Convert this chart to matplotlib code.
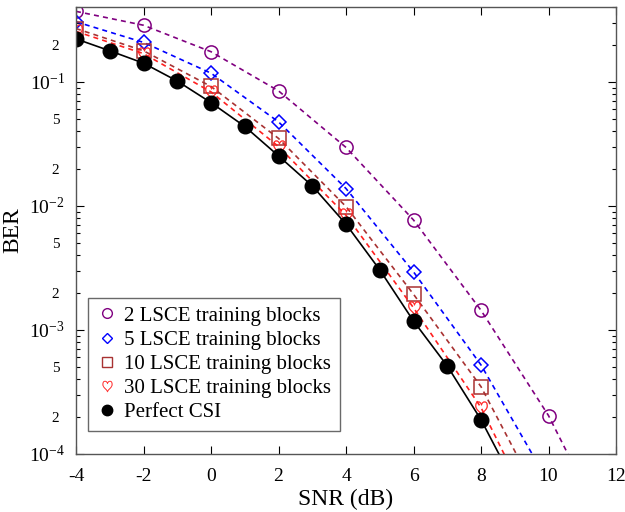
import numpy as np
import matplotlib
matplotlib.use("Agg")
import matplotlib.pyplot as plt
from matplotlib.lines import Line2D
from matplotlib.ticker import LogLocator, FuncFormatter

plt.rcParams['font.family'] = ['Liberation Serif', 'DejaVu Serif']
plt.rcParams['mathtext.fontset'] = 'custom'
plt.rcParams['mathtext.rm'] = 'Liberation Serif'
plt.rcParams['mathtext.it'] = 'Liberation Serif:italic'

# ---- data ----
snr_even = [-4, -2, 0, 2, 4, 6, 8, 10, 12]
ber_2 = [0.37, 0.286, 0.175, 0.0846, 0.0296, 0.0077, 0.00144, 0.000204, 1.7e-5]
snr_5 = [-4, -2, 0, 2, 4, 6, 8, 10]
ber_5 = [0.305, 0.208, 0.1175, 0.0476, 0.0138, 0.00294, 0.000522, 5.9e-5]
snr_10 = [-4, -2, 0, 2, 4, 6, 8, 10]
ber_10 = [0.269, 0.178, 0.0918, 0.035, 0.00988, 0.00194, 0.000349, 3.2e-5]
snr_30 = [-4, -2, 0, 2, 4, 6, 8, 10]
ber_30 = [0.255, 0.169, 0.083, 0.0301, 0.0084, 0.00151, 0.000237, 1.9e-5]
snr_csi = [-4, -3, -2, -1, 0, 1, 2, 3, 4, 5, 6, 7, 8, 9]
ber_csi = [0.222, 0.178, 0.1415, 0.1015, 0.068, 0.0437, 0.0253, 0.0145,
           0.00713, 0.00305, 0.00118, 0.000513, 0.000189, 5.7e-5]

labels = ["2 LSCE training blocks", "5 LSCE training blocks",
          "10 LSCE training blocks", "30 LSCE training blocks", "Perfect CSI"]

c_purple = '#800080'
c_blue = '#0000FF'
c_brown = '#A83232'
c_red = '#FF2020'

fig = plt.figure(figsize=(6.25, 5.12), dpi=100)
ax = fig.add_axes([0.1216, 0.1133, 0.864, 0.8727])

dash = (0, (3, 2.5))
lw = 1.2
ax.plot(snr_even, ber_2, color=c_purple, ls=dash, lw=lw, marker='o', ms=9.5,
        mfc='none', mec=c_purple, mew=1.1)
ax.plot(snr_5, ber_5, color=c_blue, ls=dash, lw=lw, marker='D', ms=7,
        mfc='none', mec=c_blue, mew=1.1)
ax.plot(snr_10, ber_10, color=c_brown, ls=dash, lw=lw, marker='s', ms=10,
        mfc='none', mec=c_brown, mew=1.1)
ax.plot(snr_30, ber_30, color=c_red, ls=dash, lw=lw, marker=r'$\heartsuit$', ms=10,
        mfc=c_red, mec=c_red, mew=0.3)
ax.plot(snr_csi, ber_csi, color='black', ls='-', lw=lw, marker='o', ms=10.5,
        mfc='black', mec='black')

ax.set_yscale('log')
ax.set_xlim(-4, 12)
ax.set_ylim(1e-4, 0.4)
ax.set_xticks(range(-4, 13, 2))
ax.set_xticklabels([str(v) for v in range(-4, 13, 2)])

ax.yaxis.set_major_locator(LogLocator(base=10, numticks=10))
ax.yaxis.set_minor_locator(LogLocator(base=10, subs=np.arange(2, 10), numticks=20))

def major_fmt(v, pos):
    e = int(round(np.log10(v)))
    return r'$10^{%d}$' % e

def minor_fmt(v, pos):
    e = np.floor(np.log10(v) + 1e-9)
    m = v / 10 ** e
    mr = int(round(m))
    if abs(m - mr) < 1e-6 and mr in (2, 5):
        return str(mr)
    return ''

ax.yaxis.set_major_formatter(FuncFormatter(major_fmt))
ax.yaxis.set_minor_formatter(FuncFormatter(minor_fmt))

ax.tick_params(axis='both', which='both', direction='in', top=True, right=True,
               labelsize=14)
ax.tick_params(axis='x', which='major', pad=10)
ax.tick_params(axis='both', which='major', length=6, width=0.8)
ax.tick_params(axis='y', which='minor', length=3, width=0.8, labelsize=11, pad=12)
ax.tick_params(axis='y', which='major', pad=8)
for s in ax.spines.values():
    s.set_color('#555555')
    s.set_linewidth(1.0)

ax.set_xlabel('SNR (dB)', fontsize=17, labelpad=3)
ax.set_ylabel('BER', fontsize=17, labelpad=4)

handles = [
    Line2D([], [], ls='none', marker='o', ms=7, mfc='none', mec=c_purple, mew=1.0),
    Line2D([], [], ls='none', marker='D', ms=5.5, mfc='none', mec=c_blue, mew=1.0),
    Line2D([], [], ls='none', marker='s', ms=7, mfc='none', mec=c_brown, mew=1.0),
    Line2D([], [], ls='none', marker=r'$\heartsuit$', ms=8, mfc=c_red, mec=c_red, mew=0.2),
    Line2D([], [], ls='none', marker='o', ms=7.5, mfc='black', mec='black'),
]
leg = ax.legend(handles, labels, loc='lower left', bbox_to_anchor=(0.022, 0.052),
                fontsize=15, frameon=True, fancybox=False, handlelength=1.0,
                handletextpad=0.35, borderpad=0.4, labelspacing=0.22,
                borderaxespad=0)
leg.get_frame().set_edgecolor('#444444')
leg.get_frame().set_linewidth(1.0)

fig.savefig('out.png', dpi=100)
